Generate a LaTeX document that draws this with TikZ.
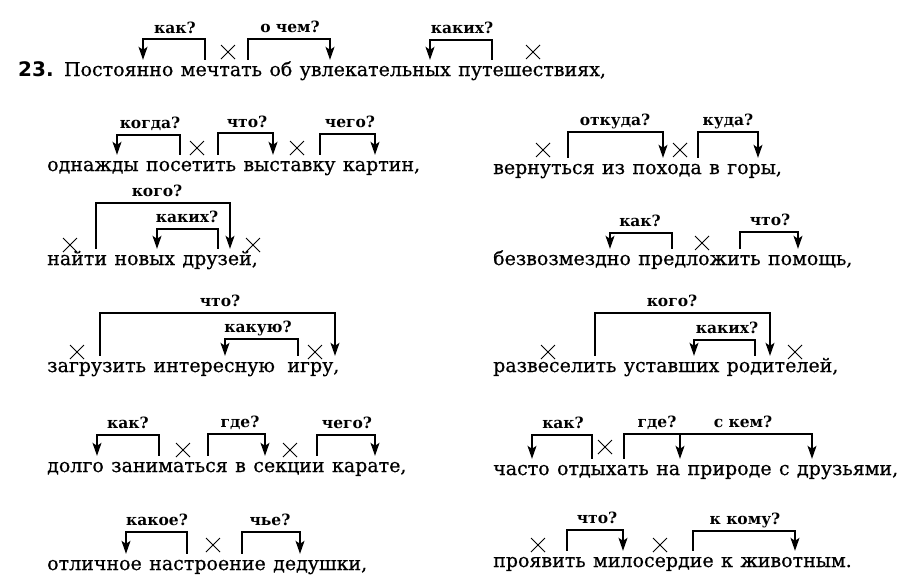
\documentclass[tikz,border=0pt]{standalone}
\usepackage{fontspec}
\setmainfont{DejaVu Serif}
\newfontfamily\wordfont[FakeBold=0.6]{DejaVu Serif}
\newfontfamily\numfont{DejaVu Sans}
\usetikzlibrary{positioning,arrows.meta,shapes.misc}

\tikzset{
  wrd/.style={inner sep=0pt, text height=16pt, text depth=4pt, font=\fontsize{19}{22}\wordfont},
  qlab/.style={inner sep=0pt, anchor=base, font=\fontsize{15.5}{18}\selectfont\bfseries},
  brk/.style={line width=1.3pt, -{Stealth[length=13pt,width=9pt,inset=3pt]}},
  xmark/.style={cross out, draw, line width=1pt, minimum size=13pt, inner sep=0pt},
  node distance=7pt
}

\begin{document}
\begin{tikzpicture}[x=1pt,y=-1pt]
    \useasboundingbox[fill=white] (0,0) rectangle (915,582);
    % 23. first line
    \node[wrd, anchor=base west, font=\fontsize{20}{22}\numfont\bfseries] (n23) at (18,76) {23.};
    \node[wrd, base right=10pt of n23] (postoyanno) {Постоянно};
    \node[wrd, base right=of postoyanno] (mechtat) {мечтать};
    \node[wrd, base right=of mechtat] (ob) {об};
    \node[wrd, base right=of ob] (uvlek) {увлекательных};
    \node[wrd, base right=of uvlek] (puteshestv) {путешествиях,};
    \draw[brk] (205,0 |- mechtat.north) |- (143,39) -- (143,0 |- postoyanno.north);
    \node[qlab] (q1a) at (175,33) {как?};
    \node[xmark] (x1a) at (228,52) {};
    \draw[brk] (248,0 |- mechtat.north) |- (330,39) -- (330,0 |- uvlek.north);
    \node[qlab] (q1b) at (290,32) {о чем?};
    \draw[brk] (492,0 |- puteshestv.north) |- (430,40) -- (430,0 |- uvlek.north);
    \node[qlab] (q1c) at (462,33) {каких?};
    \node[xmark] (x1b) at (533,52) {};

    % left column
    \node[wrd, anchor=base west] (odnazhdy) at (47,171) {однажды};
    \node[wrd, base right=of odnazhdy] (posetit) {посетить};
    \node[wrd, base right=of posetit] (vystavku) {выставку};
    \node[wrd, base right=of vystavku] (kartin) {картин,};
    \draw[brk] (180,0 |- posetit.north) |- (117,135) -- (117,0 |- odnazhdy.north);
    \node[qlab] (q2a) at (150,128) {когда?};
    \node[xmark] (x2a) at (197,148) {};
    \draw[brk] (218,0 |- posetit.north) |- (273,133) -- (273,0 |- vystavku.north);
    \node[qlab] (q2b) at (247,127) {что?};
    \node[xmark] (x2b) at (297,148) {};
    \draw[brk] (320,0 |- vystavku.north) |- (375,134) -- (375,0 |- kartin.north);
    \node[qlab] (q2c) at (350,127) {чего?};

    \node[wrd, anchor=base west] (nayti) at (47,265) {найти};
    \node[wrd, base right=of nayti] (novykh) {новых};
    \node[wrd, base right=of novykh] (druzey) {друзей,};
    \node[xmark] (x3a) at (70,245) {};
    \draw[brk] (96,0 |- nayti.north) |- (230,203) -- (230,0 |- druzey.north);
    \node[qlab] (q3a) at (157,196) {кого?};
    \draw[brk] (218,0 |- druzey.north) |- (157,229) -- (157,0 |- novykh.north);
    \node[qlab] (q3b) at (187,222) {каких?};
    \node[xmark] (x3b) at (253,245) {};

    \node[wrd, anchor=base west] (zagruzit) at (47,372) {загрузить};
    \node[wrd, base right=of zagruzit] (interes) {интересную};
    \node[wrd, base right=12pt of interes] (igru) {игру,};
    \node[xmark] (x4a) at (77,352) {};
    \draw[brk] (100,0 |- zagruzit.north) |- (335,313) -- (335,0 |- igru.north);
    \node[qlab] (q4a) at (220,306) {что?};
    \draw[brk] (298,0 |- igru.north) |- (225,339) -- (225,0 |- interes.north);
    \node[qlab] (q4b) at (258,332) {какую?};
    \node[xmark] (x4b) at (315,352) {};

    \node[wrd, anchor=base west] (dolgo) at (47,472) {долго};
    \node[wrd, base right=of dolgo] (zanim) {заниматься};
    \node[wrd, base right=of zanim] (v2) {в};
    \node[wrd, base right=of v2] (sektsii) {секции};
    \node[wrd, base right=of sektsii] (karate) {карате,};
    \draw[brk] (159,0 |- zanim.north) |- (97,435) -- (97,0 |- dolgo.north);
    \node[qlab] (q5a) at (128,428) {как?};
    \node[xmark] (x5a) at (183,450) {};
    \draw[brk] (208,0 |- zanim.north) |- (265,434) -- (265,0 |- sektsii.north);
    \node[qlab] (q5b) at (240,427) {где?};
    \node[xmark] (x5b) at (290,450) {};
    \draw[brk] (317,0 |- sektsii.north) |- (375,435) -- (375,0 |- karate.north);
    \node[qlab] (q5c) at (347,428) {чего?};

    \node[wrd, anchor=base west] (otlichnoe) at (47,570) {отличное};
    \node[wrd, base right=of otlichnoe] (nastroen) {настроение};
    \node[wrd, base right=of nastroen] (dedushki) {дедушки,};
    \draw[brk] (187,0 |- nastroen.north) |- (126,532) -- (126,0 |- otlichnoe.north);
    \node[qlab] (q6a) at (157,525) {какое?};
    \node[xmark] (x6a) at (213,545) {};
    \draw[brk] (242,0 |- nastroen.north) |- (300,532) -- (300,0 |- dedushki.north);
    \node[qlab] (q6b) at (270,525) {чье?};

    % right column
    \node[wrd, anchor=base west] (vernutsya) at (493,174) {вернуться};
    \node[wrd, base right=of vernutsya] (iz) {из};
    \node[wrd, base right=of iz] (pokhoda) {похода};
    \node[wrd, base right=of pokhoda] (v1) {в};
    \node[wrd, base right=of v1] (gory) {горы,};
    \node[xmark] (x7a) at (543,150) {};
    \draw[brk] (568,0 |- vernutsya.north) |- (663,132) -- (663,0 |- pokhoda.north);
    \node[qlab] (q7a) at (615,125) {откуда?};
    \node[xmark] (x7b) at (680,150) {};
    \draw[brk] (698,0 |- pokhoda.north) |- (758,132) -- (758,0 |- gory.north);
    \node[qlab] (q7b) at (728,125) {куда?};

    \node[wrd, anchor=base west] (bezvozm) at (493,265) {безвозмездно};
    \node[wrd, base right=of bezvozm] (predlozh) {предложить};
    \node[wrd, base right=of predlozh] (pomosch) {помощь,};
    \draw[brk] (672,0 |- predlozh.north) |- (610,233) -- (610,0 |- bezvozm.north);
    \node[qlab] (q8a) at (640,226) {как?};
    \node[xmark] (x8a) at (702,243) {};
    \draw[brk] (740,0 |- predlozh.north) |- (798,232) -- (798,0 |- pomosch.north);
    \node[qlab] (q8b) at (770,225) {что?};

    \node[wrd, anchor=base west] (razvesel) at (493,372) {развеселить};
    \node[wrd, base right=of razvesel] (ustavsh) {уставших};
    \node[wrd, base right=of ustavsh] (roditel) {родителей,};
    \node[xmark] (x9a) at (548,352) {};
    \draw[brk] (595,0 |- razvesel.north) |- (770,313) -- (770,0 |- roditel.north);
    \node[qlab] (q9a) at (672,306) {кого?};
    \draw[brk] (755,0 |- roditel.north) |- (694,340) -- (694,0 |- ustavsh.north);
    \node[qlab] (q9b) at (727,333) {каких?};
    \node[xmark] (x9b) at (795,352) {};

    \node[wrd, anchor=base west] (chasto) at (493,475) {часто};
    \node[wrd, base right=of chasto] (otdykh) {отдыхать};
    \node[wrd, base right=of otdykh] (na) {на};
    \node[wrd, base right=of na] (prirode) {природе};
    \node[wrd, base right=of prirode] (s) {с};
    \node[wrd, base right=of s] (druzyami) {друзьями,};
    \draw[brk] (592,0 |- otdykh.north) |- (532,435) -- (532,0 |- chasto.north);
    \node[qlab] (q10a) at (563,428) {как?};
    \node[xmark] (x10a) at (605,447) {};
    \draw[brk] (624,0 |- otdykh.north) |- (812,434) -- (812,0 |- druzyami.north);
    \draw[brk] (680,434) -- (680,0 |- prirode.north);
    \node[qlab] (q10b) at (657,427) {где?};
    \node[qlab] (q10c) at (743,427) {с кем?};

    \node[wrd, anchor=base west] (proyavit) at (493,567) {проявить};
    \node[wrd, base right=of proyavit] (miloserd) {милосердие};
    \node[wrd, base right=of miloserd] (k) {к};
    \node[wrd, base right=of k] (zhivotn) {животным.};
    \node[xmark] (x11a) at (538,545) {};
    \draw[brk] (567,0 |- proyavit.north) |- (623,530) -- (623,0 |- miloserd.north);
    \node[qlab] (q11a) at (597,523) {что?};
    \node[xmark] (x11b) at (660,545) {};
    \draw[brk] (693,0 |- miloserd.north) |- (795,531) -- (795,0 |- zhivotn.north);
    \node[qlab] (q11b) at (745,524) {к кому?};
\end{tikzpicture}
\end{document}
